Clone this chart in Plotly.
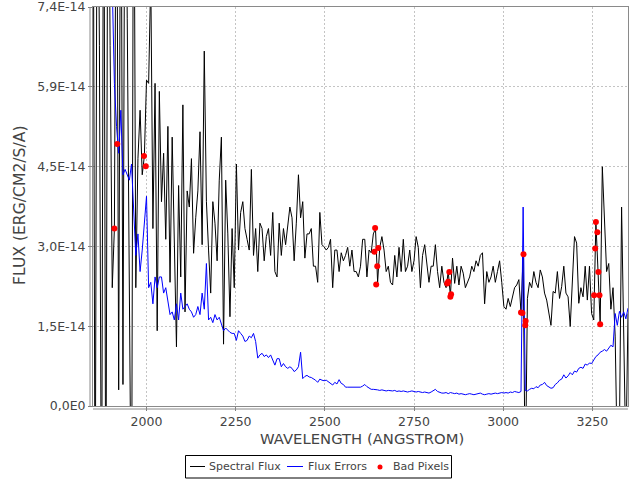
import numpy as np
import plotly.graph_objects as go

# Wavelength sampling (Angstrom) of the spectrum
WAVE_START = 1850
WAVE_STEP = 6
WAVE_END = 3350

# Spectral flux, units of 1E-14 erg/cm2/s/A
FLUX = [
    12, -3, 12, 6.7, -3, 12, -3, 12, 6.7, 2.2,
    3.3, 12, 0.3, 12, 0.4, 12, 7.2, 1.6, -3, 12,
    2.2, 4.6, 5.5, 4.3, 4.65, 6.06, 6.0, 8.0, 3.3, 6.0,
    1.4, 5.85, 3.8, 4.7, 3.1, 5.2, 2.3, 5.0, 3.1, 1.1,
    4.1, 2.4, 5.6, 1.75, 4.0, 3.7, 4.6, 2.84, 3.5, 4.0,
    5.1, 3.0, 6.6, 3.8, 2.9, 2.1, 3.8, 3.4, 2.7, 4.2,
    5.0, 1.15, 4.2, 3.2, 1.66, 3.3, 2.2, 4.5, 2.9, 3.6,
    3.8, 3.3, 3.1, 2.9, 4.4, 2.8, 3.3, 2.5, 3.4, 3.3,
    2.7, 3.15, 3.3, 2.8, 3.6, 2.5, 2.4, 3.4, 2.8, 3.3,
    3.0, 3.3, 3.7, 3.5, 2.7, 3.4, 4.3, 3.5, 3.8, 2.75,
    3.2, 3.2, 3.3, 2.6, 2.6, 2.3, 3.6, 3.0, 2.96, 2.9,
    2.95, 3.1, 2.2, 2.9, 2.9, 2.5, 2.85, 2.7, 2.8, 2.95,
    2.6, 2.9, 2.5, 2.5, 2.4, 2.6, 3.1, 3.1, 2.4, 2.9,
    2.85, 3.2, 3.3, 2.3, 2.95, 3.15, 2.9, 2.5, 2.6, 2.3,
    2.25, 2.8, 2.4, 2.95, 2.5, 3.1, 2.5, 2.6, 2.9, 2.5,
    2.7, 3.15, 2.95, 2.2, 2.8, 3.0, 2.7, 2.3, 2.6, 2.6,
    3.0, 2.5, 2.2, 2.6, 2.3, 2.2, 2.5, 2.05, 2.75, 2.28,
    2.6, 2.25, 2.6, 2.47, 2.2, 2.3, 2.4, 2.6, 2.5, 2.7,
    2.6, 2.8, 2.85, 1.9, 2.5, 2.3, 2.4, 2.6, 2.3, 2.5,
    2.7, 2.3, 1.85, 1.8, 2.0, 1.85, 2.0, 2.2, 2.25, 2.35,
    1.74, 2.82, -1.5, 2.0, 2.3, 2.2, 2.5, 2.3, 2.2, 2.53,
    2.4, 2.1, 1.97, 1.72, 1.5, 2.13, 2.1, 2.5, 2.0, 2.22,
    2.6, 2.1, 2.03, 1.48, 2.4, 3.15, 3.03, 1.91, 2.2, 2.03,
    2.6, 1.97, 2.6, 1.72, 1.6, 3.42, 2.5, 1.52, 4.45, 3.5,
    2.5, 2.65, 1.8, 2.2, 1.3, -1.0, -0.5, 3.7, 1.0, -1.0,
    1.72,
]

# Flux errors, units of 1E-14 erg/cm2/s/A
FLUX_ERR = [
    14, 13, 12.5, 12, 11, 10.5, 10, 9.5, 9, 7.8,
    6.0, 5.2, 4.7, 5.5, 4.3, 4.4, 4.3, 4.2, 4.5, 3.7,
    2.8, 3.2, 2.5, 2.9, 3.4, 3.9, 2.2, 2.3, 1.9, 2.4,
    2.2, 2.4, 2.4, 2.1, 2.2, 1.9, 1.7, 1.75, 1.6, 1.9,
    1.6, 2.1, 1.8, 1.85, 1.9, 1.8, 1.75, 1.65, 1.7, 1.85,
    1.7, 2.1, 1.8, 2.65, 1.6, 1.65, 1.55, 1.7, 1.6, 1.65,
    1.5, 1.4, 1.45, 1.4, 1.37, 1.35, 1.35, 1.22, 1.4, 1.35,
    1.3, 1.2, 1.22, 1.3, 1.27, 1.35, 1.2, 0.89, 0.95, 0.98,
    0.92, 0.95, 0.9, 0.95, 0.85, 0.76, 0.88, 0.88, 0.73, 0.79,
    0.73, 0.70, 0.73, 0.70, 0.64, 0.67, 0.73, 1.0, 0.51, 0.55,
    0.57, 0.54, 0.53, 0.51, 0.48, 0.44, 0.50, 0.48, 0.47, 0.48,
    0.45, 0.42, 0.39, 0.44, 0.41, 0.49, 0.42, 0.40, 0.35, 0.35,
    0.35, 0.35, 0.34, 0.35, 0.34, 0.35, 0.37, 0.40, 0.36, 0.33,
    0.31, 0.31, 0.31, 0.30, 0.29, 0.30, 0.29, 0.28, 0.29, 0.28,
    0.28, 0.29, 0.27, 0.28, 0.27, 0.28, 0.27, 0.26, 0.27, 0.28,
    0.27, 0.26, 0.27, 0.26, 0.25, 0.26, 0.25, 0.24, 0.26, 0.29,
    0.31, 0.27, 0.25, 0.24, 0.24, 0.25, 0.23, 0.25, 0.24, 0.23,
    0.24, 0.22, 0.23, 0.22, 0.21, 0.22, 0.23, 0.22, 0.21, 0.22,
    0.23, 0.24, 0.22, 0.21, 0.22, 0.23, 0.22, 0.23, 0.24, 0.23,
    0.24, 0.25, 0.24, 0.25, 0.24, 0.26, 0.25, 0.27, 0.26, 0.25,
    0.27, 3.7, 0.29, 0.28, 0.31, 0.33, 0.32, 0.36, 0.34, 0.39,
    0.40, 0.44, 0.38, 0.35, 0.33, 0.34, 0.40, 0.43, 0.48, 0.50,
    0.58, 0.52, 0.56, 0.62, 0.58, 0.65, 0.63, 0.70, 0.72, 0.70,
    0.78, 0.76, 0.80, 0.79, 0.86, 0.92, 0.95, 1.0, 1.02, 1.05,
    1.02, 1.08, 1.13, 1.1, 1.72, 1.5, 1.76, 1.65, 1.75, 1.62,
    1.82,
]

# Bad pixels
BAD_WAVE = [1910, 1918, 1993, 1998, 2641, 2639, 2650, 2647, 2644,
            2849, 2843, 2846, 2854, 2852, 3057, 3050, 3054, 3063, 3062,
            3260, 3264, 3258, 3267, 3255, 3270, 3272]
BAD_FLUX = [3.30, 4.87, 4.65, 4.46, 3.31, 2.87, 2.94, 2.60, 2.26,
            2.49, 2.28, 2.31, 2.08, 2.03, 2.82, 1.74, 1.73, 1.58, 1.50,
            3.42, 3.23, 2.93, 2.49, 2.06, 2.06, 1.52]

FLUX_UNIT = 1e-14

X_TICKS = [2000, 2250, 2500, 2750, 3000, 3250]
X_TICK_LABELS = ["2000", "2250", "2500", "2750", "3000", "3250"]
Y_TICKS = [0, 1.484, 2.968, 4.452, 5.936, 7.42]
Y_TICK_LABELS = ["0,0E0", "1,5E-14", "3,0E-14", "4,5E-14", "5,9E-14", "7,4E-14"]
X_RANGE = [1850, 3350]
Y_MAX = 7.42

SERIES_NAMES = ["Spectral Flux", "Flux Errors", "Bad Pixels"]
SERIES_COLORS = ["#000000", "#0000ff", "#ff0000"]

wave = np.arange(WAVE_START, WAVE_END + 1, WAVE_STEP)
flux = np.array(FLUX) * FLUX_UNIT
err = np.array(FLUX_ERR) * FLUX_UNIT

FONT = "DejaVu Sans"
TXT = "#444444"

# plot-area geometry in pixels
W, H = 640, 480
L, R, T, B = 93, 12, 7, 74
PW, PH = W - L - R, H - T - B


def px_x(p):
    return (p - L) / PW


def px_y(p):
    return (H - B - p) / PH


fig = go.Figure()
fig.add_trace(go.Scatter(x=wave, y=flux, mode="lines", name=SERIES_NAMES[0],
                         line=dict(color=SERIES_COLORS[0], width=1)))
fig.add_trace(go.Scatter(x=wave, y=err, mode="lines", name=SERIES_NAMES[1],
                         line=dict(color=SERIES_COLORS[1], width=1)))
fig.add_trace(go.Scatter(x=BAD_WAVE, y=np.array(BAD_FLUX) * FLUX_UNIT, mode="markers",
                         name=SERIES_NAMES[2], marker=dict(color=SERIES_COLORS[2], size=6)))

axis_common = dict(
    showgrid=True, gridcolor="#c4c4c4", gridwidth=1, griddash="2px,2px",
    zeroline=False, ticks="outside", ticklen=4, tickcolor="#808080",
    tickfont=dict(family=FONT, size=12.5, color=TXT),
    showline=True, linecolor="#8a8a8a", linewidth=1, mirror=True,
    automargin=False, ticklabeloverflow="allow",
)

shapes = [
    # offset axis lines
    dict(type="line", xref="paper", yref="paper", x0=px_x(90), x1=px_x(90),
         y0=0, y1=1, line=dict(color="#8a8a8a", width=1)),
    dict(type="line", xref="paper", yref="paper", x0=0, x1=1,
         y0=px_y(409), y1=px_y(409), line=dict(color="#8a8a8a", width=1)),
    # legend box
    dict(type="rect", xref="paper", yref="paper", x0=px_x(185.5), x1=px_x(451.5),
         y0=px_y(478), y1=px_y(455.5), line=dict(color="#000000", width=1),
         fillcolor="white"),
    dict(type="line", xref="paper", yref="paper", x0=px_x(190), x1=px_x(205),
         y0=px_y(466.5), y1=px_y(466.5), line=dict(color=SERIES_COLORS[0], width=1)),
    dict(type="line", xref="paper", yref="paper", x0=px_x(287), x1=px_x(303),
         y0=px_y(466.5), y1=px_y(466.5), line=dict(color=SERIES_COLORS[1], width=1)),
    dict(type="circle", xref="paper", yref="paper", x0=px_x(377.5), x1=px_x(382.5),
         y0=px_y(469.5), y1=px_y(464.5), line=dict(color=SERIES_COLORS[2], width=0),
         fillcolor=SERIES_COLORS[2]),
]

legend_text_x = [207, 306, 391]
annotations = [
    dict(text="WAVELENGTH (ANGSTROM)", xref="paper", yref="paper",
         x=px_x(362), y=px_y(438), xanchor="center", yanchor="middle", showarrow=False,
         font=dict(family=FONT, size=14.8, color=TXT)),
    dict(text="FLUX (ERG/CM2/S/A)", xref="paper", yref="paper",
         x=px_x(20), y=px_y(206), xanchor="center", yanchor="middle", showarrow=False,
         textangle=-90, font=dict(family=FONT, size=15.6, color=TXT)),
]
for name, tx in zip(SERIES_NAMES, legend_text_x):
    annotations.append(dict(text=name, xref="paper", yref="paper", x=px_x(tx),
                            y=px_y(466.5), xanchor="left", yanchor="middle",
                            showarrow=False, font=dict(family=FONT, size=11, color=TXT)))

fig.update_layout(
    width=W, height=H,
    margin=dict(l=L, r=R, t=T, b=B),
    paper_bgcolor="white", plot_bgcolor="white",
    font=dict(family=FONT, color=TXT, size=11),
    xaxis=dict(range=X_RANGE, tickvals=X_TICKS, ticktext=X_TICK_LABELS, **axis_common),
    yaxis=dict(range=[0, Y_MAX * FLUX_UNIT],
               tickvals=[v * FLUX_UNIT for v in Y_TICKS], ticktext=Y_TICK_LABELS,
               **axis_common),
    showlegend=False,
    shapes=shapes,
    annotations=annotations,
)

fig.write_html("out.html", config={"displayModeBar": False},
               post_script="document.body.style.margin='0';")
